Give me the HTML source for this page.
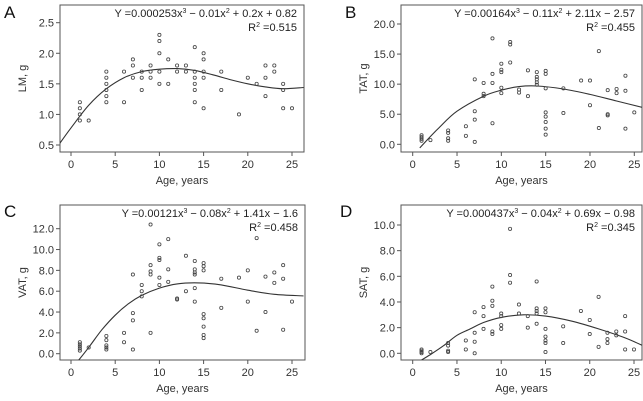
<!DOCTYPE html>
<html><head><meta charset="utf-8"><style>
html,body{margin:0;padding:0;background:#fff;width:643px;height:401px;overflow:hidden}
svg{display:block;font-family:"Liberation Sans",sans-serif}
</style></head><body>
<svg id="chart" width="643" height="401"></svg>
<script>
// Panel A data
const aAge=[1,1,1,1,2,4,4,4,4,4,4,6,6,7,7,7,8,8,8,9,9,9,10,10,10,10,10,11,11,12,12,13,13,14,14,14,14,14,14,15,15,15,15,15,17,17,19,20,21,22,22,22,23,23,24,24,24,25];
const aVal=[1.2,1.1,1.0,0.9,0.9,1.7,1.6,1.5,1.4,1.3,1.2,1.7,1.2,1.9,1.8,1.6,1.7,1.6,1.4,1.8,1.7,1.6,2.3,2.2,2.0,1.7,1.5,1.9,1.5,1.8,1.7,1.8,1.7,2.1,1.7,1.6,1.5,1.4,1.2,2.0,1.9,1.7,1.6,1.1,1.7,1.4,1.0,1.6,1.5,1.8,1.6,1.3,1.8,1.7,1.5,1.4,1.1,1.1];
const aFitX=[-1.3,0,2,4,6,8,10,12,14,16,18,20,22,24,26.3];
const aFitY=[0.52,0.78,1.15,1.42,1.6,1.7,1.74,1.75,1.72,1.65,1.57,1.5,1.45,1.42,1.44];
const aTicks=[0.5,1.0,1.5,2.0,2.5];
// Panel B data
const bAge=[1,1,1,1,2,4,4,4,4,6,6,7,7,7,7,8,8,8,9,9,9,9,10,10,10,10,10,11,11,11,12,12,13,13,14,14,14,14,14,15,15,15,15,15,15,15,15,17,17,19,20,20,21,21,22,22,22,23,23,24,24,24,25];
const bVal=[1.5,1.2,0.9,0.6,0.7,2.3,1.9,1.0,0.6,3.0,1.4,10.8,5.5,4.1,0.4,10.2,8.4,8.0,17.6,11.7,10.2,3.5,13.4,12.4,12.0,9.4,8.5,17.0,16.6,13.6,9.1,8.6,12.3,8.0,12.0,11.2,10.8,10.3,9.9,12.2,11.7,9.3,5.3,4.6,3.7,2.6,1.6,9.3,5.2,10.6,10.6,6.5,15.5,2.7,9.0,5.0,4.8,9.2,8.5,11.4,8.9,2.6,5.3];
const bFitX=[0.8,2,3,5,8,10,12,14,17,20,23,26.3];
const bFitY=[-0.6,1.3,2.8,5.5,8.0,9.0,9.6,9.7,9.2,8.3,7.2,6.0];
const bTicks=[0,5,10,15,20];
// Panel C data
const cAge=[1,1,1,1,1,2,4,4,4,4,4,6,6,7,7,7,7,8,8,8,9,9,9,9,9,10,10,10,10,10,11,11,11,12,12,13,13,14,14,14,14,14,14,15,15,15,15,15,15,15,15,17,17,19,20,20,21,21,22,22,23,23,24,24,24,25];
const cVal=[1.1,0.9,0.7,0.5,0.3,0.6,1.7,1.3,0.8,0.6,0.4,2.0,1.1,7.6,3.9,3.2,0.4,6.6,6.0,5.5,12.4,8.5,7.9,7.6,2.0,10.5,9.2,9.0,7.3,6.6,11.0,8.1,6.9,5.3,5.2,9.4,6.0,8.9,8.1,7.8,7.6,6.3,5.0,8.7,8.4,8.0,3.8,3.4,2.6,1.8,1.5,7.2,4.4,7.3,8.0,5.0,11.1,2.2,7.4,4.0,7.8,6.8,8.5,7.2,2.3,5.0];
const cFitX=[0.7,2,3.5,5,6.5,8,10,12,14.5,17,20,23,26.3];
const cFitY=[-0.8,0.6,2.3,3.7,4.8,5.6,6.3,6.7,6.8,6.6,6.1,5.7,5.55];
const cTicks=[0,2,4,6,8,10,12];
// Panel D data
const dAge=[1,1,1,1,2,4,4,4,4,6,6,7,7,7,7,8,8,8,9,9,9,9,9,10,10,10,10,11,11,11,12,12,13,13,14,14,14,14,14,15,15,15,15,15,15,15,17,17,19,20,20,21,21,22,22,22,23,23,24,24,24,25];
const dVal=[0.3,0.2,0.1,0.0,0.1,0.8,0.6,0.2,0.1,1.0,0.3,3.2,1.6,0.9,0.0,3.6,2.9,1.9,5.2,4.1,3.7,1.7,1.5,3.1,2.9,2.2,1.9,9.7,6.1,5.5,3.8,3.1,2.9,2.0,5.6,3.5,3.3,3.1,2.3,3.5,3.2,1.9,1.3,1.0,0.8,0.1,2.1,0.8,3.3,2.6,1.5,4.4,0.5,1.6,1.1,0.8,1.7,1.4,2.9,1.7,0.3,0.3];
const dFitX=[0.8,2,3.5,5,6.5,8,10,12.5,15,18,21,24,26.3];
const dFitY=[-0.6,-0.1,0.6,1.4,1.9,2.4,2.8,3.0,2.9,2.5,1.9,1.2,0.5];
const dTicks=[0,2,4,6,8,10];
const xTicks=[0,5,10,15,20,25];

const NS='http://www.w3.org/2000/svg';
const svg=document.getElementById('chart');
function mk(tag,attrs,parent){const e=document.createElementNS(NS,tag);for(const k in attrs)e.setAttribute(k,attrs[k]);parent.appendChild(e);return e;}
function smooth(p){
  let d='M'+p[0][0].toFixed(1)+','+p[0][1].toFixed(1);
  for(let i=0;i<p.length-1;i++){
    const p0=p[i-1]||p[i],p1=p[i],p2=p[i+1],p3=p[i+2]||p2;
    const c1=[p1[0]+(p2[0]-p0[0])/6,p1[1]+(p2[1]-p0[1])/6];
    const c2=[p2[0]-(p3[0]-p1[0])/6,p2[1]-(p3[1]-p1[1])/6];
    d+=' C'+c1.map(v=>v.toFixed(1)).join(',')+' '+c2.map(v=>v.toFixed(1)).join(',')+' '+p2[0].toFixed(1)+','+p2[1].toFixed(1);
  }
  return d;
}

function panel(o){
  const g=mk('g',{},svg);
  
  
  const sx=v=>o.x0+(v-0)*(o.x25-o.x0)/25;
  const sy=v=>o.yA+(v-o.vA)*(o.yB-o.yA)/(o.vB-o.vA);
  const box=mk('rect',{x:o.L,y:o.T,width:o.R-o.L,height:o.B-o.T,fill:'none',stroke:'#555','stroke-width':1},g);
  
  
  const lt=mk('text',{x:o.lx,y:o.ly,'font-size':17,fill:'#111'},g);lt.textContent=o.letter;
  
  
  o.yt.forEach(v=>{
    const y=sy(v);
    mk('line',{x1:o.L-4,x2:o.L,y1:y,y2:y,stroke:'#555'},g);
    const t=mk('text',{x:o.L-6,y:y+4,'font-size':11,'text-anchor':'end',fill:'#333'},g);
    t.textContent=v.toFixed(1);
    
    
  });
  xTicks.forEach(v=>{
    const x=sx(v);
    mk('line',{x1:x,x2:x,y1:o.B,y2:o.B+4,stroke:'#555'},g);
    const t=mk('text',{x:x,y:o.B+16,'font-size':11,'text-anchor':'middle',fill:'#333'},g);
    t.textContent=v;
    
    
  });
  const xt=mk('text',{x:(o.L+o.R)/2,y:o.B+32,'font-size':11,'text-anchor':'middle',fill:'#333'},g);
  xt.textContent='Age, years';
  
  
  const cy=(o.T+o.B)/2;
  const yt=mk('text',{x:o.L-34,y:cy,'font-size':11,'text-anchor':'middle',fill:'#333',transform:`rotate(-90 ${o.L-34} ${cy})`},g);
  yt.textContent=o.ylab;
  
  
  const eq=mk('text',{x:o.R-7,y:o.T+12,'font-size':11,'text-anchor':'end',fill:'#222'},g);
  eq.innerHTML=o.eq;
  
  
  const r2=mk('text',{x:o.R-7,y:o.T+26,'font-size':11,'text-anchor':'end',fill:'#222'},g);
  r2.innerHTML='R<tspan dy="-4" font-size="7">2</tspan><tspan dy="4"> =' + o.r2 + '</tspan>';
  
  
  const cp=mk('clipPath',{id:'clip'+o.letter},g);
  mk('rect',{x:o.L,y:o.T,width:o.R-o.L,height:o.B-o.T},cp);
  const pts=o.fx.map((v,i)=>[sx(v),sy(o.fy[i])]);
  const pl=mk('path',{d:smooth(pts),fill:'none',stroke:'#333','stroke-width':1.1,'clip-path':`url(#clip${o.letter})`},g);
  
  
  o.ax.forEach((a,i)=>{
    const c=mk('circle',{cx:sx(a),cy:sy(o.av[i]),r:1.6,fill:'none',stroke:'#444','stroke-width':0.8},g);
    
    
  });
}
panel({letter:'A',lx:4,ly:18,L:60,R:304,T:5,B:152,x0:71,x25:292,vA:0.5,yA:145,vB:2.5,yB:22.7,yt:aTicks,ylab:'LM, g',
  eq:'Y =0.000253x<tspan dy="-4" font-size="7">3</tspan><tspan dy="4"> − 0.01x</tspan><tspan dy="-4" font-size="7">2</tspan><tspan dy="4"> + 0.2x + 0.82</tspan>',r2:'0.515',ax:aAge,av:aVal,fx:aFitX,fy:aFitY});
panel({letter:'B',lx:345,ly:18,L:401,R:642,T:5,B:152,x0:412.7,x25:634.3,vA:0,yA:144.3,vB:20,yB:24,yt:bTicks,ylab:'TAT, g',
  eq:'Y =0.00164x<tspan dy="-4" font-size="7">3</tspan><tspan dy="4"> − 0.11x</tspan><tspan dy="-4" font-size="7">2</tspan><tspan dy="4"> + 2.11x − 2.57</tspan>',r2:'0.455',ax:bAge,av:bVal,fx:bFitX,fy:bFitY});
panel({letter:'C',lx:4,ly:217,L:60,R:305,T:205,B:360,x0:71,x25:292,vA:0,yA:353.7,vB:12,yB:228.7,yt:cTicks,ylab:'VAT, g',
  eq:'Y =0.00121x<tspan dy="-4" font-size="7">3</tspan><tspan dy="4"> − 0.08x</tspan><tspan dy="-4" font-size="7">2</tspan><tspan dy="4"> + 1.41x − 1.6</tspan>',r2:'0.458',ax:cAge,av:cVal,fx:cFitX,fy:cFitY});
panel({letter:'D',lx:340,ly:217,L:401,R:642,T:205,B:360,x0:412.7,x25:634,vA:0,yA:353.3,vB:10,yB:225,yt:dTicks,ylab:'SAT, g',
  eq:'Y =0.000437x<tspan dy="-4" font-size="7">3</tspan><tspan dy="4"> − 0.04x</tspan><tspan dy="-4" font-size="7">2</tspan><tspan dy="4"> + 0.69x − 0.98</tspan>',r2:'0.345',ax:dAge,av:dVal,fx:dFitX,fy:dFitY});
</script>
</body></html>
